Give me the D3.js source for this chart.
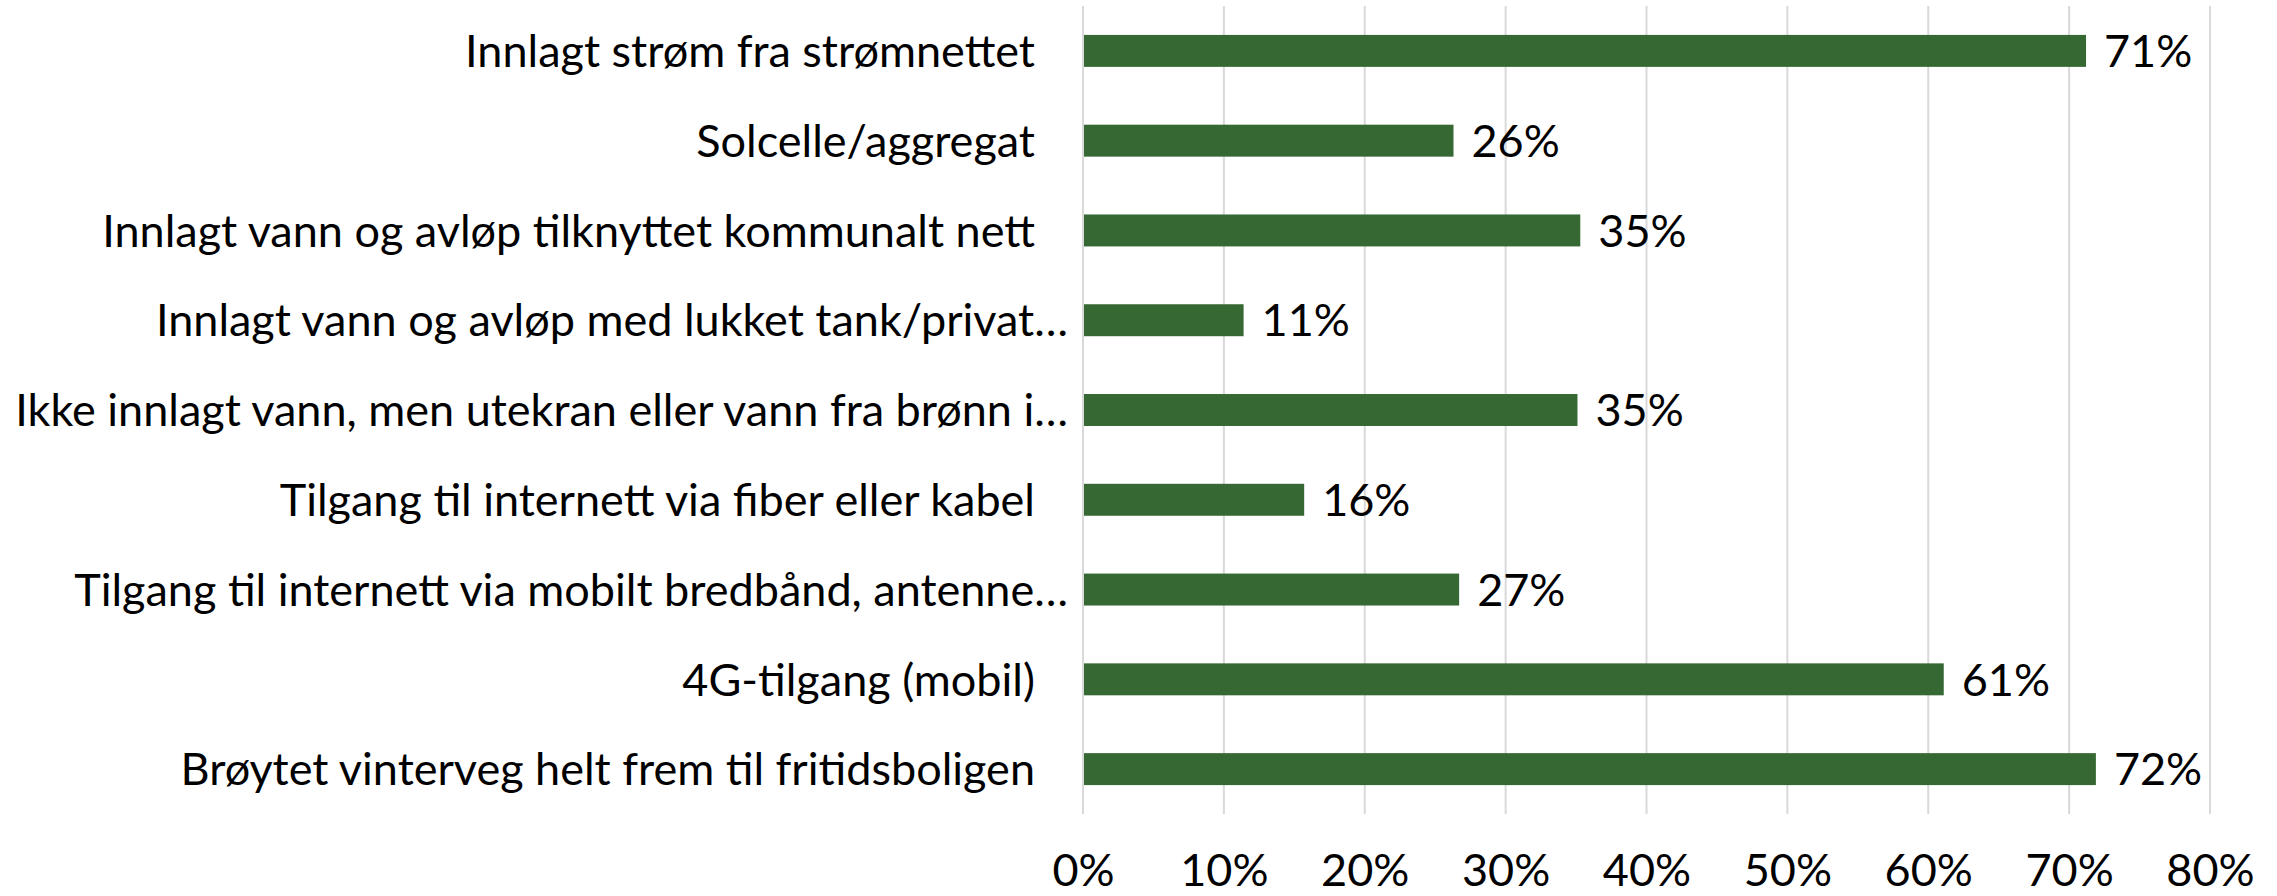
<!DOCTYPE html>
<html>
<head>
<meta charset="utf-8">
<script src="https://cdn.jsdelivr.net/npm/d3@7"></script>
<style>
  body { margin: 0; background: #fff; }
  text { font-family: Lato, "Open Sans", sans-serif; }
</style>
</head>
<body>
<div id="wrapper"></div>
<script>
// Data
const categories = [
  'Innlagt strøm fra strømnettet',
  'Solcelle/aggregat',
  'Innlagt vann og avløp tilknyttet kommunalt nett',
  'Innlagt vann og avløp med lukket tank/privat…',
  'Ikke innlagt vann, men utekran eller vann fra brønn i…',
  'Tilgang til internett via fiber eller kabel',
  'Tilgang til internett via mobilt bredbånd, antenne…',
  '4G-tilgang (mobil)',
  'Brøytet vinterveg helt frem til fritidsboligen'
]
const shares = [71.2, 26.3, 35.3, 11.4, 35.1, 15.7, 26.7, 61.1, 71.9]
const tickValues = [0, 10, 20, 30, 40, 50, 60, 70, 80]

function drawBars() {
  const dataset = categories.map((c, i) => ({ category: c, share: shares[i] }))

  const yAccessor = d => d.category
  const xAccessor = d => d.share

  let dimensions = {
    width: 2277,
    height: 896,
    margins: {
      top: 6,
      right: 67,
      bottom: 82,
      left: 1083
    }
  }
  dimensions.boundedWidth = dimensions.width
                          - dimensions.margins.left
                          - dimensions.margins.right
  dimensions.boundedHeight = dimensions.height
                          - dimensions.margins.top
                          - dimensions.margins.bottom

  const wrapper = d3.select('#wrapper').append('svg')
                    .attr('width', dimensions.width)
                    .attr('height', dimensions.height)
                    .style('display', 'block')

  const bounds = wrapper.append('g')
                        .attr('transform', `translate(${dimensions.margins.left},${dimensions.margins.top})`)

  // Scales
  const xScale = d3.scaleLinear()
                   .domain([0, 80])
                   .range([0, dimensions.boundedWidth])

  const yScale = d3.scaleBand()
                   .domain(dataset.map(yAccessor))
                   .range([0, dimensions.boundedHeight])
                   .paddingInner(0.644)
                   .paddingOuter(0.322)

  // Gridlines
  bounds.append('g')
        .selectAll('line')
        .data(tickValues)
        .join('line')
        .attr('x1', d => xScale(d))
        .attr('x2', d => xScale(d))
        .attr('y1', 0)
        .attr('y2', dimensions.boundedHeight)
        .attr('stroke', '#d9d9d9')
        .attr('stroke-width', 2)

  // Bars
  bounds.append('g')
        .selectAll('rect')
        .data(dataset)
        .join('rect')
        .attr('x', xScale(0) + 1)
        .attr('y', d => yScale(yAccessor(d)))
        .attr('width', d => xScale(xAccessor(d)) - xScale(0) - 1)
        .attr('height', yScale.bandwidth())
        .attr('fill', '#366834')

  // Value labels
  bounds.append('g')
        .selectAll('text')
        .data(dataset)
        .join('text')
        .attr('x', d => xScale(xAccessor(d)) + 18)
        .attr('y', d => yScale(yAccessor(d)) + yScale.bandwidth() / 2)
        .attr('dy', '0.36em')
        .style('font-size', '45px')
        .attr('fill', '#000')
        .text(d => Math.round(xAccessor(d)) + '%')

  // Category labels (truncated ones sit closer to the axis)
  bounds.append('g')
        .selectAll('text')
        .data(dataset)
        .join('text')
        .attr('x', d => yAccessor(d).endsWith('…') ? -15 : -48)
        .attr('y', d => yScale(yAccessor(d)) + yScale.bandwidth() / 2)
        .attr('dy', '0.36em')
        .attr('text-anchor', 'end')
        .style('font-size', '45px')
        .attr('fill', '#000')
        .text(yAccessor)

  // x axis
  const xAxisGenerator = d3.axisBottom()
                           .scale(xScale)
                           .tickValues(tickValues)
                           .tickSize(0)
                           .tickPadding(0)
                           .tickFormat(d => d + '%')

  const xAxis = bounds.append('g')
                      .attr('transform', `translate(0,${dimensions.boundedHeight})`)
                      .call(xAxisGenerator)
  xAxis.select('.domain').remove()
  xAxis.selectAll('text')
       .attr('y', 72)
       .attr('dy', 0)
       .style('font-size', '45px')
       .style('font-family', 'Lato, sans-serif')
       .attr('fill', '#000')
}
drawBars()
</script>
</body>
</html>
